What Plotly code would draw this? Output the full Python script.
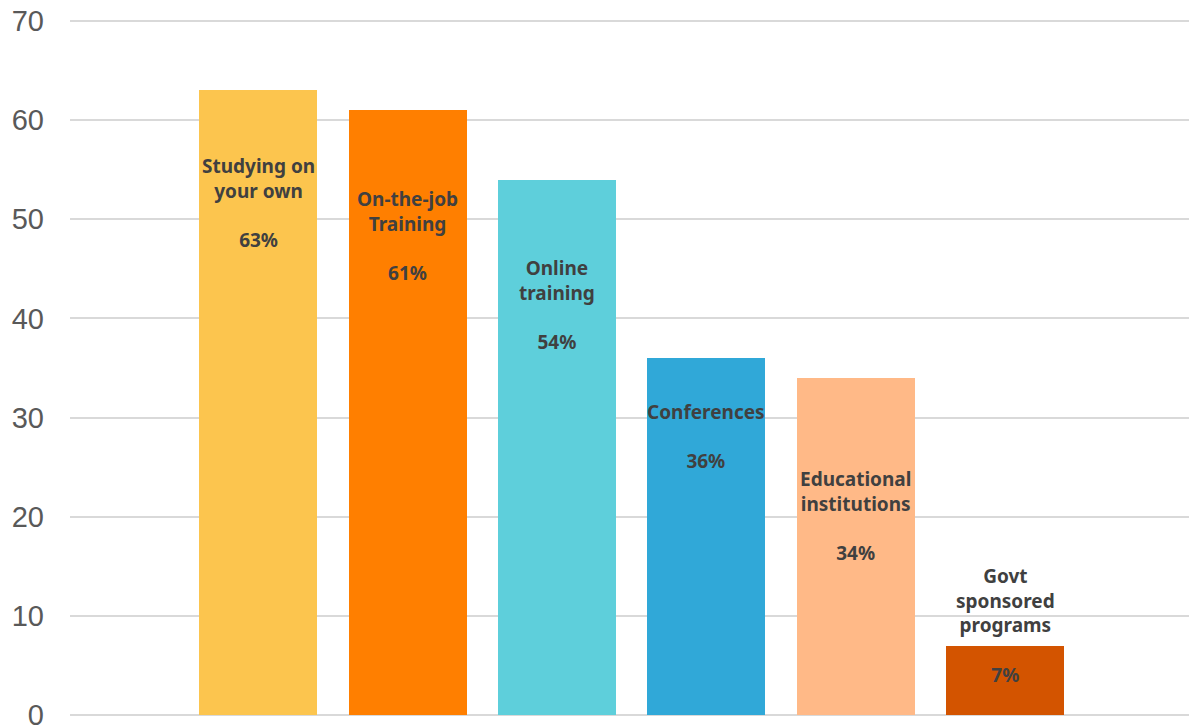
import plotly.graph_objects as go

categories = ["Studying on<br>your own", "On-the-job<br>Training", "Online<br>training",
              "Conferences", "Educational<br>institutions", "Govt<br>sponsored<br>programs"]
values = [63, 61, 54, 36, 34, 7]
pct_labels = ["63%", "61%", "54%", "36%", "34%", "7%"]
colors = ["#FCC54E", "#FF7F00", "#5ECFDB", "#30A8D8", "#FFB987", "#D35400"]
tick_vals = [0, 10, 20, 30, 40, 50, 60, 70]

# vertical centre of each inside label (data units)
label_center = [51.6, 48.3, 41.4, 28.1, 20.1, 9.0]

x = list(range(len(values)))

fig = go.Figure()
fig.add_trace(go.Bar(x=x, y=values, width=0.79, marker=dict(color=colors, line=dict(width=0)),
                     hoverinfo="skip"))

for i, (c, p, yc) in enumerate(zip(categories, pct_labels, label_center)):
    fig.add_annotation(x=i, y=yc, xref="x", yref="y", text=f"<b>{c}<br><br>{p}</b>",
                       showarrow=False, align="center", yanchor="middle", xanchor="center",
                       font=dict(family="Noto Sans", size=19, color="#404040"))

fig.update_layout(
    width=1189, height=728,
    margin=dict(l=70, r=0, t=19, b=11, autoexpand=False),
    paper_bgcolor="white", plot_bgcolor="white",
    showlegend=False, bargap=0,
    xaxis=dict(range=[-1.262, 6.232], showticklabels=False, showgrid=False, zeroline=False,
               showline=False, ticks="", automargin=False),
    yaxis=dict(range=[-0.2, 70.2], tickvals=tick_vals, showgrid=True, gridcolor="#D9D9D9", gridwidth=2,
               zeroline=False, showline=False, ticks="", ticklabelstandoff=25,
               ticklabeloverflow="allow", automargin=False,
               tickfont=dict(family="Liberation Sans, Arial", size=29, color="#595959")),
)

fig.write_html("out.html")
